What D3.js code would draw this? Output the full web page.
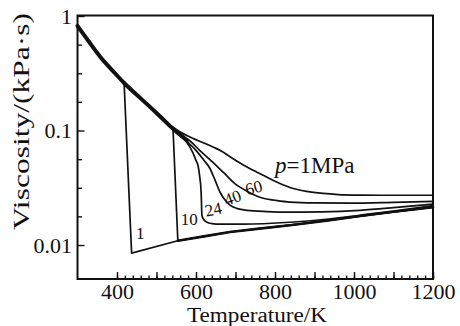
<!DOCTYPE html>
<html>
<head>
<meta charset="utf-8">
<script src="https://cdn.jsdelivr.net/npm/d3@7"></script>
<style>
  body { margin: 0; background: #fff; }
  svg { display: block; }
  text { font-family: "Liberation Serif", "Times New Roman", serif; fill: #111; }
</style>
</head>
<body>
<svg id="chart" width="460" height="326"></svg>
<script>
// shared high-viscosity branch (all pressures lie on it below ~540 K)
const envT = [300, 330, 360, 390, 418, 450, 480, 510, 540, 560, 577];
const envV = [0.82, 0.59, 0.43, 0.33, 0.26, 0.205, 0.165, 0.132, 0.105, 0.092, 0.082];

// common low-viscosity branch that curves 1 and 10 fall onto
const lowT = [554, 620, 686, 760, 838, 930, 1015, 1100, 1200];
const lowV = [0.0109, 0.0119, 0.013, 0.0139, 0.0149, 0.0163, 0.0179, 0.0195, 0.0214];

// per-pressure branches (MPa)
const p1T = [418, 437];
const p1V = [0.26, 0.0085];
const p10T = [542];
const p10V = [0.1];
const p24T = [565, 577, 592, 600, 605, 609, 613, 615, 619, 628, 640, 661, 720, 838, 930, 1015, 1100, 1200];
const p24V = [0.087, 0.0787, 0.064, 0.0548, 0.0497, 0.0406, 0.0289, 0.0182, 0.0168, 0.0158, 0.0154, 0.0152, 0.0152, 0.0158, 0.0168, 0.0182, 0.0198, 0.0221];
const p40T = [550, 575, 600, 620, 635, 648, 661, 673, 686, 705, 729, 780, 838, 920, 1015, 1100, 1200];
const p40V = [0.095, 0.081, 0.067, 0.055, 0.0468, 0.037, 0.0289, 0.0248, 0.0223, 0.0208, 0.0201, 0.0196, 0.0194, 0.0195, 0.0201, 0.0212, 0.0228];
const p60T = [540, 560, 585, 610, 643, 670, 700, 730, 770, 800, 838, 900, 990, 1100, 1200];
const p60V = [0.104, 0.093, 0.081, 0.0668, 0.0527, 0.0428, 0.034, 0.0294, 0.0256, 0.0246, 0.0237, 0.0233, 0.0232, 0.0236, 0.0241];
const pTopT = [520, 540, 560, 590, 623, 643, 665, 686, 720, 750, 770, 800, 838, 880, 922, 960, 1015, 1100, 1200];
const pTopV = [0.124, 0.108, 0.097, 0.086, 0.077, 0.0717, 0.066, 0.059, 0.05, 0.044, 0.0406, 0.036, 0.0318, 0.0294, 0.0282, 0.0276, 0.0273, 0.0272, 0.0272];

// ticks and labels
const xTickValues = [400, 600, 800, 1000, 1200];
const xTickLabels = ['400', '600', '800', '1000', '1200'];
const yTickValues = [1, 0.1, 0.01];
const yTickLabels = ['1', '0.1', '0.01'];
const yMinorTicks = [0.562, 0.316, 0.178, 0.0562, 0.0316, 0.0178];

// curve labels: text, temperature, viscosity, rotation
const curveLabels = [
  ['1', 459, 0.0127, 0],
  ['10', 583, 0.0169, 0],
  ['24', 644, 0.0206, -12],
  ['40', 692, 0.026, -20],
  ['60', 746, 0.0318, -15]
];

const zip = (a, b) => a.map((t, i) => [t, b[i]]);

const svg = d3.select('#chart'),
    margin = { top: 15.5, right: 27, bottom: 47, left: 77.5 },
    width = +svg.attr('width') - margin.left - margin.right,
    height = +svg.attr('height') - margin.top - margin.bottom;

const x = d3.scaleLinear().domain([300, 1200]).range([0, width]);
const y = d3.scaleLog().domain([0.00505, 1.01]).range([height, 0]);

const g = svg.append('g')
    .attr('transform', 'translate(' + margin.left + ',' + margin.top + ')');

// x ticks: small every 20 K, medium every 100 K, labels every 200 K
g.append('g')
    .attr('transform', 'translate(0,' + height + ')')
    .call(d3.axisBottom(x).tickValues(d3.range(400, 1201, 20)).tickSize(-3.5).tickFormat(''))
    .call(a => a.select('.domain').remove());
g.append('g')
    .attr('transform', 'translate(0,' + height + ')')
    .call(d3.axisBottom(x).tickValues(d3.range(400, 1201, 100)).tickSize(-7).tickFormat(''))
    .call(a => a.select('.domain').remove());
const xAxis = g.append('g')
    .attr('transform', 'translate(0,' + height + ')')
    .call(d3.axisBottom(x).tickValues(xTickValues).tickSize(0).tickPadding(4)
        .tickFormat((d, i) => xTickLabels[i]));
xAxis.select('.domain').remove();
xAxis.selectAll('text').style('font-family', '"Liberation Serif", serif').style('font-size', '22px');

// y ticks, pointing inward
g.append('g')
    .call(d3.axisLeft(y).tickValues(yMinorTicks).tickSize(-4.5).tickFormat(''))
    .call(a => a.select('.domain').remove());
const yAxis = g.append('g')
    .call(d3.axisLeft(y).tickValues(yTickValues).tickSize(-7).tickPadding(5.5)
        .tickFormat((d, i) => yTickLabels[i]));
yAxis.select('.domain').remove();
yAxis.selectAll('text').style('font-family', '"Liberation Serif", serif').style('font-size', '22px');
g.selectAll('.tick line').attr('stroke', '#111').attr('stroke-width', 1.4);

// frame
g.append('rect')
    .attr('width', width).attr('height', height)
    .attr('fill', 'none').attr('stroke', '#111').attr('stroke-width', 2);

const smooth = d3.line().x(d => x(d[0])).y(d => y(d[1])).curve(d3.curveMonotoneX);
const straight = d3.line().x(d => x(d[0])).y(d => y(d[1]));

const curves = g.append('g').attr('fill', 'none').attr('stroke', '#111')
    .attr('stroke-linejoin', 'round').attr('stroke-linecap', 'round');

// thick shared band on the left
curves.append('path').attr('d', smooth(zip(envT, envV))).attr('stroke-width', 4);

curves.append('path').attr('d', smooth(zip(pTopT, pTopV))).attr('stroke-width', 1.7);
curves.append('path').attr('d', smooth(zip(p60T, p60V))).attr('stroke-width', 1.7);
curves.append('path').attr('d', smooth(zip(p40T, p40V))).attr('stroke-width', 1.7);
curves.append('path').attr('d', smooth(zip(p24T, p24V))).attr('stroke-width', 1.7);
curves.append('path').attr('d', straight(zip(p10T.concat(lowT), p10V.concat(lowV)))).attr('stroke-width', 1.7);
curves.append('path').attr('d', straight(zip(p1T.concat(lowT), p1V.concat(lowV)))).attr('stroke-width', 1.7);
// low branch drawn again a bit heavier
curves.append('path').attr('d', straight(zip(lowT, lowV))).attr('stroke-width', 2.6);

// curve labels
g.selectAll('.clabel')
    .data(curveLabels)
    .enter().append('text')
    .attr('class', 'clabel')
    .attr('transform', d => 'translate(' + x(d[1]) + ',' + y(d[2]) + ') rotate(' + d[3] + ')')
    .attr('text-anchor', 'middle')
    .attr('dy', '0.35em')
    .style('font-size', '17px')
    .text(d => d[0]);

const pLabel = g.append('text')
    .attr('x', x(800)).attr('y', y(0.0425))
    .style('font-size', '23px');
pLabel.append('tspan').style('font-style', 'italic').text('p');
pLabel.append('tspan').text('=1MPa');

// axis titles
svg.append('text')
    .attr('x', 257).attr('y', 322)
    .attr('text-anchor', 'middle')
    .attr('textLength', 140)
    .attr('lengthAdjust', 'spacingAndGlyphs')
    .style('font-size', '20px')
    .text('Temperature/K');

svg.append('text')
    .attr('transform', 'translate(29,121.5) rotate(-90)')
    .attr('text-anchor', 'middle')
    .attr('textLength', 217)
    .attr('lengthAdjust', 'spacingAndGlyphs')
    .style('font-size', '24px')
    .text('Viscosity/(kPa\u00b7s)');
</script>
</body>
</html>
